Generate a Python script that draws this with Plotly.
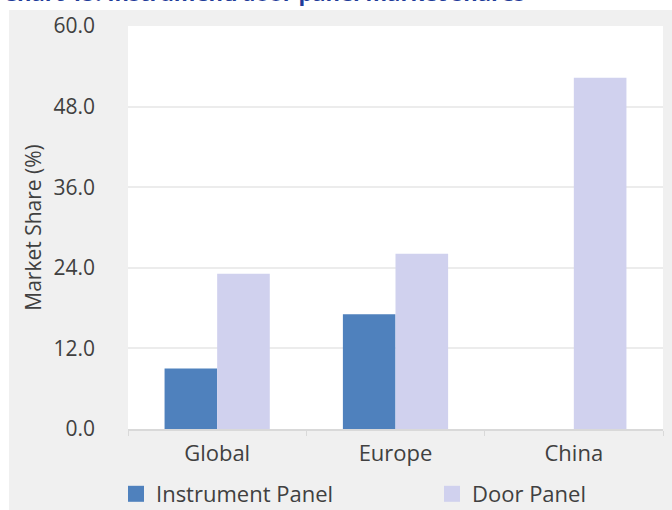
import plotly.graph_objects as go

# Market share by region for two interior panel types
regions = ["Global", "Europe", "China"]
instrument_panel = [9.0, 17.1, 0.0]
door_panel = [23.1, 26.1, 52.3]
series_names = ["Instrument Panel", "Door Panel"]
series_colors = ["#4f81bd", "#d0d1ee"]
y_ticks = [0, 12, 24, 36, 48, 60]
y_tick_text = ["0.0", "12.0", "24.0", "36.0", "48.0", "60.0"]

FONT = "Open Sans, sans-serif"
TEXT = "#404040"

fig = go.Figure()
for name, vals, col in zip(series_names, [instrument_panel, door_panel], series_colors):
    fig.add_trace(go.Bar(name=name, x=regions, y=vals, showlegend=False,
                         marker=dict(color=col, line=dict(width=0))))
# legend keys drawn as larger squares
for name, col in zip(series_names, series_colors):
    fig.add_trace(go.Scatter(name=name, x=[None], y=[None], mode="markers",
                             marker=dict(symbol="square", size=16, color=col)))

W, H = 672, 510
L, R, T, B = 128, 9, 26, 81
pw, ph = W - L - R, H - T - B

def px_x(p):
    return (p - L) / pw

def px_y(p):
    return (H - B - p) / ph

fig.update_layout(
    width=W, height=H,
    margin=dict(l=L, r=R, t=T, b=B, pad=0, autoexpand=False),
    paper_bgcolor="#f0f0f0",
    plot_bgcolor="white",
    barmode="group", bargap=0.41, bargroupgap=0,
    font=dict(family=FONT, color=TEXT, size=21),
    showlegend=True,
    legend=dict(orientation="h", x=px_x(116), xanchor="left", y=px_y(473), yanchor="top",
                bgcolor="rgba(0,0,0,0)", font=dict(size=22, color=TEXT),
                entrywidth=271, entrywidthmode="pixels", itemwidth=30,
                itemsizing="trace", traceorder="normal"),
    xaxis=dict(showgrid=False, showline=True, linecolor="#d9d9d9", linewidth=1.5,
               ticks="outside", tickson="boundaries", ticklen=5, tickcolor="#d9d9d9",
               tickfont=dict(size=22, color=TEXT), ticklabelstandoff=4, fixedrange=True),
    yaxis=dict(range=[0, 60], tickvals=y_ticks, ticktext=y_tick_text,
               showgrid=True, gridcolor="#ececec", gridwidth=2,
               zeroline=False, showline=False, ticks="",
               tickfont=dict(size=21, color=TEXT), ticklabelstandoff=32,
               title=dict(text="Market Share (%)", font=dict(size=21, color=TEXT), standoff=6),
               fixedrange=True),
    shapes=[
        dict(type="rect", xref="paper", yref="paper", x0=px_x(-5), x1=px_x(9),
             y0=px_y(H + 5), y1=px_y(-5), fillcolor="white", line=dict(width=0), layer="below"),
        dict(type="rect", xref="paper", yref="paper", x0=px_x(-5), x1=px_x(W + 5),
             y0=px_y(10), y1=px_y(-5), fillcolor="white", line=dict(width=0), layer="below"),
    ],
    annotations=[
        dict(text="<b>Chart 15: Instrument/door panel market shares</b>", xref="paper", yref="paper",
             x=px_x(1), xanchor="left", y=px_y(9), yanchor="bottom", showarrow=False,
             font=dict(family=FONT, size=22, color="#1f3c99")),
    ],
)

fig.write_html("out.html")
